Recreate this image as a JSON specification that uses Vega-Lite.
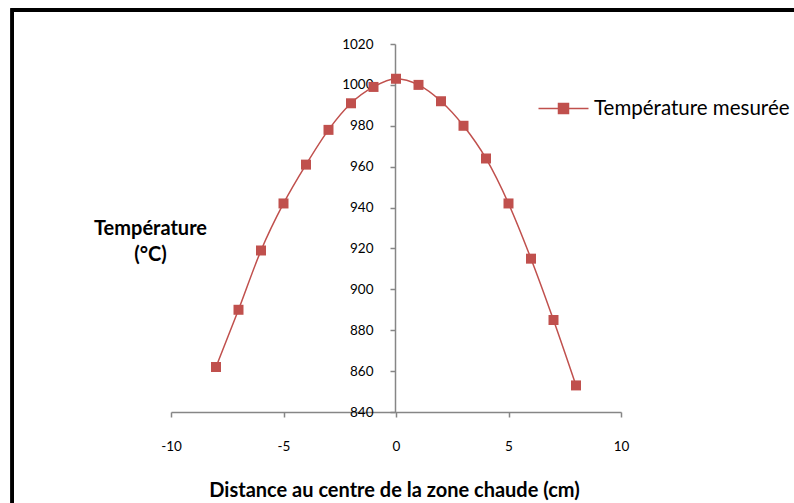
{
  "$schema": "https://vega.github.io/schema/vega-lite/v6.json",
  "width": 450,
  "height": 368,
  "autosize": {"type": "none"},
  "padding": {"left": 171, "top": 44, "right": 173, "bottom": 91},
  "background": "white",
  "config": {
    "view": {"stroke": null},
    "font": "Lato",
    "axis": {"grid": false, "domainColor": "#868686", "tickColor": "#868686", "domainWidth": 1.5, "tickWidth": 1.5, "tickSize": 5, "labelFont": "Lato", "labelFontSize": 13.5, "labelColor": "#000000", "titleFont": "Lato", "titleColor": "#000000", "titleFontWeight": "bold"}
  },
  "data": {
    "values": [
      {"d": -8, "t": 862, "serie": "Température mesurée"},
      {"d": -7, "t": 890, "serie": "Température mesurée"},
      {"d": -6, "t": 919, "serie": "Température mesurée"},
      {"d": -5, "t": 942, "serie": "Température mesurée"},
      {"d": -4, "t": 961, "serie": "Température mesurée"},
      {"d": -3, "t": 978, "serie": "Température mesurée"},
      {"d": -2, "t": 991, "serie": "Température mesurée"},
      {"d": -1, "t": 999, "serie": "Température mesurée"},
      {"d": 0, "t": 1003, "serie": "Température mesurée"},
      {"d": 1, "t": 1000, "serie": "Température mesurée"},
      {"d": 2, "t": 992, "serie": "Température mesurée"},
      {"d": 3, "t": 980, "serie": "Température mesurée"},
      {"d": 4, "t": 964, "serie": "Température mesurée"},
      {"d": 5, "t": 942, "serie": "Température mesurée"},
      {"d": 6, "t": 915, "serie": "Température mesurée"},
      {"d": 7, "t": 885, "serie": "Température mesurée"},
      {"d": 8, "t": 853, "serie": "Température mesurée"}
    ]
  },
  "layer": [
    {
      "mark": {"type": "rect", "fill": null, "fillOpacity": 0, "stroke": "#000000", "strokeWidth": 3, "clip": false},
      "encoding": {
        "x": {"datum": -17.05, "type": "quantitative"},
        "x2": {"datum": 20},
        "y": {"datum": 1036.7, "type": "quantitative"},
        "y2": {"datum": 780}
      }
    },
    {
      "mark": {"type": "line", "interpolate": "monotone", "strokeWidth": 1.5, "point": {"shape": "square", "size": 100, "filled": true, "opacity": 1}},
      "encoding": {
        "x": {
          "field": "d", "type": "quantitative",
          "scale": {"domain": [-10, 10], "nice": false, "zero": false},
          "axis": {"values": [-10, -5, 0, 5, 10], "labelExpr": "'' + datum.value", "labelPadding": 22, "labelFlush": false,
                   "title": "Distance au centre de la zone chaude (cm)", "titleFontSize": 20,
                   "titleX": 223, "titleY": 84, "titleBaseline": "alphabetic", "titleAlign": "center"}
        },
        "y": {
          "field": "t", "type": "quantitative",
          "scale": {"domain": [840, 1020], "nice": false, "zero": false},
          "axis": {"values": [840, 860, 880, 900, 920, 940, 960, 980, 1000, 1020], "labelExpr": "'' + datum.value", "offset": -224, "labelPadding": 17, "labelFlush": false,
                   "title": ["Température", "(°C)"], "titleAngle": 0, "titleFontSize": 20, "titleLineHeight": 26,
                   "titleX": -245, "titleY": 190, "titleBaseline": "alphabetic", "titleAlign": "center"}
        },
        "color": {
          "field": "serie", "type": "nominal",
          "scale": {"range": ["#C0504D"]},
          "legend": {"title": null, "orient": "none", "legendX": 375, "legendY": 47, "padding": 0,
                     "symbolType": "M-1.5,0H1.5M-0.3,-0.3H0.3V0.3H-0.3Z", "symbolSize": 1111, "symbolStrokeWidth": 1.5,
                     "symbolFillColor": "#C0504D", "symbolStrokeColor": "#C0504D", "symbolOpacity": 1,
                     "labelFont": "Lato", "labelFontSize": 20.5, "labelLimit": 0, "labelColor": "#000000", "labelOffset": 13}
        }
      }
    }
  ]
}
